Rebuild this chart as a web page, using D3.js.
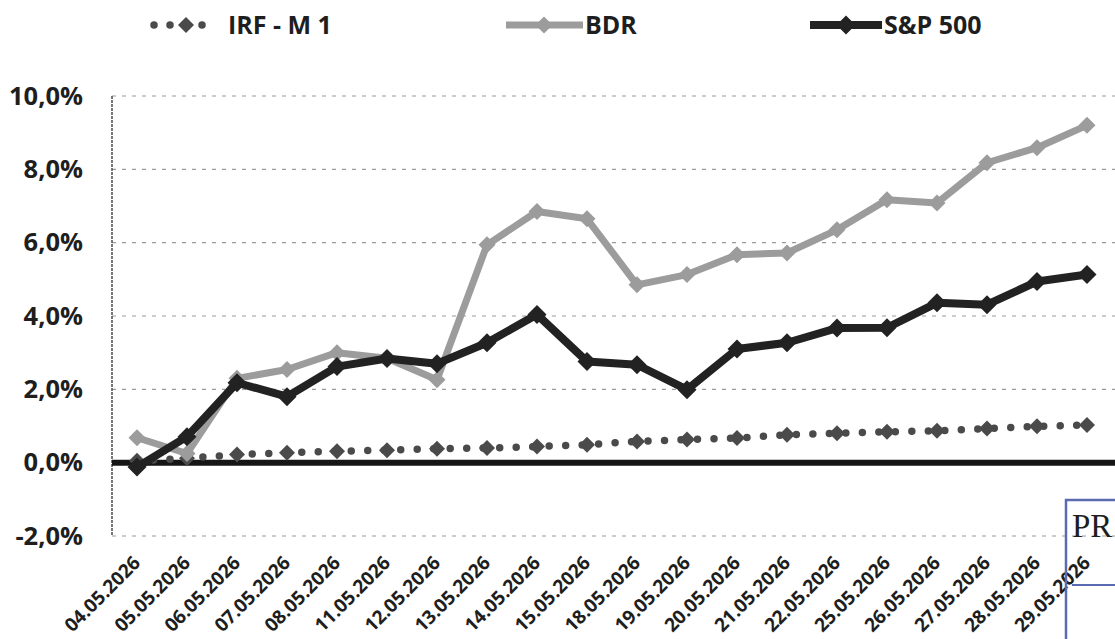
<!DOCTYPE html>
<html>
<head>
<meta charset="utf-8">
<script src="https://cdn.jsdelivr.net/npm/d3@7"></script>
<style>
  html, body { margin: 0; padding: 0; background: #ffffff; }
  svg { display: block; }
  text { font-family: "Open Sans", Lato, sans-serif; font-weight: bold; fill: #1e1e1e; }
</style>
</head>
<body>
<svg id="chart" width="1115" height="639"></svg>
<script>
// ---- data ----
const dates = ["04.05.2026","05.05.2026","06.05.2026","07.05.2026","08.05.2026","11.05.2026","12.05.2026",
  "13.05.2026","14.05.2026","15.05.2026","18.05.2026","19.05.2026","20.05.2026","21.05.2026","22.05.2026",
  "25.05.2026","26.05.2026","27.05.2026","28.05.2026","29.05.2026"];
const irfM1 = [0.05,0.12,0.22,0.27,0.31,0.34,0.38,0.40,0.44,0.49,0.58,0.63,0.67,0.76,0.80,0.84,0.87,0.93,0.99,1.03];
const bdr   = [0.68,0.25,2.30,2.54,3.00,2.85,2.26,5.94,6.85,6.65,4.85,5.13,5.67,5.72,6.35,7.17,7.08,8.18,8.59,9.20];
const sp500 = [-0.12,0.71,2.18,1.80,2.62,2.84,2.70,3.27,4.04,2.76,2.67,1.99,3.10,3.27,3.67,3.68,4.36,4.31,4.94,5.13];
const yTicks = [-2,0,2,4,6,8,10];
const seriesNames = ["IRF - M 1","BDR","S&P 500"];

const FONT = "'Open Sans', Lato, sans-serif";
const svg = d3.select("#chart");
const plotLeft = 112, plotRight = 1115, plotTop = 96, plotBottom = 536;

const x = d3.scalePoint().domain(dates).range([137, 1087]);
const y = d3.scaleLinear().domain([-2, 10]).range([plotBottom, plotTop]);

// gridlines
svg.append("g").selectAll("line").data(yTicks).join("line")
  .attr("x1", plotLeft).attr("x2", plotRight)
  .attr("y1", d => y(d)).attr("y2", d => y(d))
  .attr("stroke", "#9a9a9a").attr("stroke-width", 1.1)
  .attr("stroke-dasharray", "4 6");

// vertical axis line
svg.append("line")
  .attr("x1", plotLeft).attr("x2", plotLeft).attr("y1", plotTop).attr("y2", plotBottom)
  .attr("stroke", "#555").attr("stroke-width", 1.6).attr("stroke-dasharray", "3 1");

// y axis labels
const yAxis = d3.axisLeft(y).tickValues(yTicks).tickSize(0).tickPadding(29)
  .tickFormat(d => d.toFixed(1).replace(".", ",") + "%");
const gy = svg.append("g").attr("transform", `translate(${plotLeft},0)`).call(yAxis);
gy.select(".domain").remove();
gy.selectAll("text").style("font-size", "25.5px").style("font-family", FONT)
  .style("font-weight", "bold").attr("fill", "#1e1e1e");

// x axis labels
const xAxis = d3.axisBottom(x).tickSize(0).tickPadding(0);
const gx = svg.append("g").attr("transform", `translate(0,${plotBottom})`).call(xAxis);
gx.select(".domain").remove();
gx.selectAll("text")
  .style("font-size", "19px").style("font-family", FONT).style("font-weight", "bold")
  .attr("fill", "#1e1e1e")
  .attr("text-anchor", "end").attr("dy", 0).attr("y", 0)
  .attr("transform", "translate(4,28) rotate(-45)");

// zero line
svg.append("line")
  .attr("x1", plotLeft).attr("x2", plotRight).attr("y1", y(0)).attr("y2", y(0))
  .attr("stroke", "#151515").attr("stroke-width", 6);

const diamond = r => `M0,${-r}L${r},0L0,${r}L${-r},0Z`;
const line = d3.line().x((d, i) => x(dates[i])).y(d => y(d));

// IRF - M 1 : dotted line with diamonds
svg.append("path").datum(irfM1).attr("d", line)
  .attr("fill", "none").attr("stroke", "#4a4a4a").attr("stroke-width", 7.5)
  .attr("stroke-linecap", "round").attr("stroke-dasharray", "0 16.5");
svg.append("g").selectAll("path").data(irfM1).join("path")
  .attr("d", diamond(8))
  .attr("transform", (d, i) => `translate(${x(dates[i])},${y(d)})`)
  .attr("fill", "#4a4a4a");

// BDR
svg.append("path").datum(bdr).attr("d", line)
  .attr("fill", "none").attr("stroke", "#9c9c9c").attr("stroke-width", 7)
  .attr("stroke-linejoin", "round");
svg.append("g").selectAll("path").data(bdr).join("path")
  .attr("d", diamond(8.5))
  .attr("transform", (d, i) => `translate(${x(dates[i])},${y(d)})`)
  .attr("fill", "#9c9c9c");

// S&P 500
svg.append("path").datum(sp500).attr("d", line)
  .attr("fill", "none").attr("stroke", "#222").attr("stroke-width", 8)
  .attr("stroke-linejoin", "round");
svg.append("g").selectAll("path").data(sp500).join("path")
  .attr("d", diamond(9.5))
  .attr("transform", (d, i) => `translate(${x(dates[i])},${y(d)})`)
  .attr("fill", "#222");

// legend
const lg = svg.append("g");
const ly = 25;
lg.append("line").attr("x1", 154).attr("x2", 212).attr("y1", ly).attr("y2", ly)
  .attr("stroke", "#4a4a4a").attr("stroke-width", 7.5).attr("stroke-linecap", "round")
  .attr("stroke-dasharray", "0 16");
lg.append("path").attr("d", diamond(8)).attr("transform", `translate(186,${ly})`).attr("fill", "#4a4a4a");
lg.append("text").attr("x", 228).attr("y", ly + 9).style("font-size", "25px").style("font-family", FONT).text(seriesNames[0]);
lg.append("line").attr("x1", 506).attr("x2", 583).attr("y1", ly).attr("y2", ly)
  .attr("stroke", "#9c9c9c").attr("stroke-width", 7);
lg.append("path").attr("d", diamond(8.5)).attr("transform", `translate(544,${ly})`).attr("fill", "#9c9c9c");
lg.append("text").attr("x", 585).attr("y", ly + 9).style("font-size", "25px").style("font-family", FONT).text(seriesNames[1]);
lg.append("line").attr("x1", 810).attr("x2", 882).attr("y1", ly).attr("y2", ly)
  .attr("stroke", "#222").attr("stroke-width", 8);
lg.append("path").attr("d", diamond(9.5)).attr("transform", `translate(846,${ly})`).attr("fill", "#222");
lg.append("text").attr("x", 884).attr("y", ly + 9).style("font-size", "25px").style("font-family", FONT).text(seriesNames[2]);

// scanned stamp fragment (bottom right)
const st = svg.append("g");
st.append("rect").attr("x", 1066).attr("y", 500).attr("width", 80).attr("height", 160)
  .attr("fill", "none").attr("stroke", "#5b6bb0").attr("stroke-width", 2.5);
st.append("text").attr("x", 1072).attr("y", 537).style("font-family", "'Liberation Serif', serif")
  .style("font-weight", "normal").style("font-size", "33px").attr("fill", "#5b6bb0").text("PR");
st.append("line").attr("x1", 1072).attr("x2", 1115).attr("y1", 585).attr("y2", 585)
  .attr("stroke", "#5b6bb0").attr("stroke-width", 2);
</script>
</body>
</html>
